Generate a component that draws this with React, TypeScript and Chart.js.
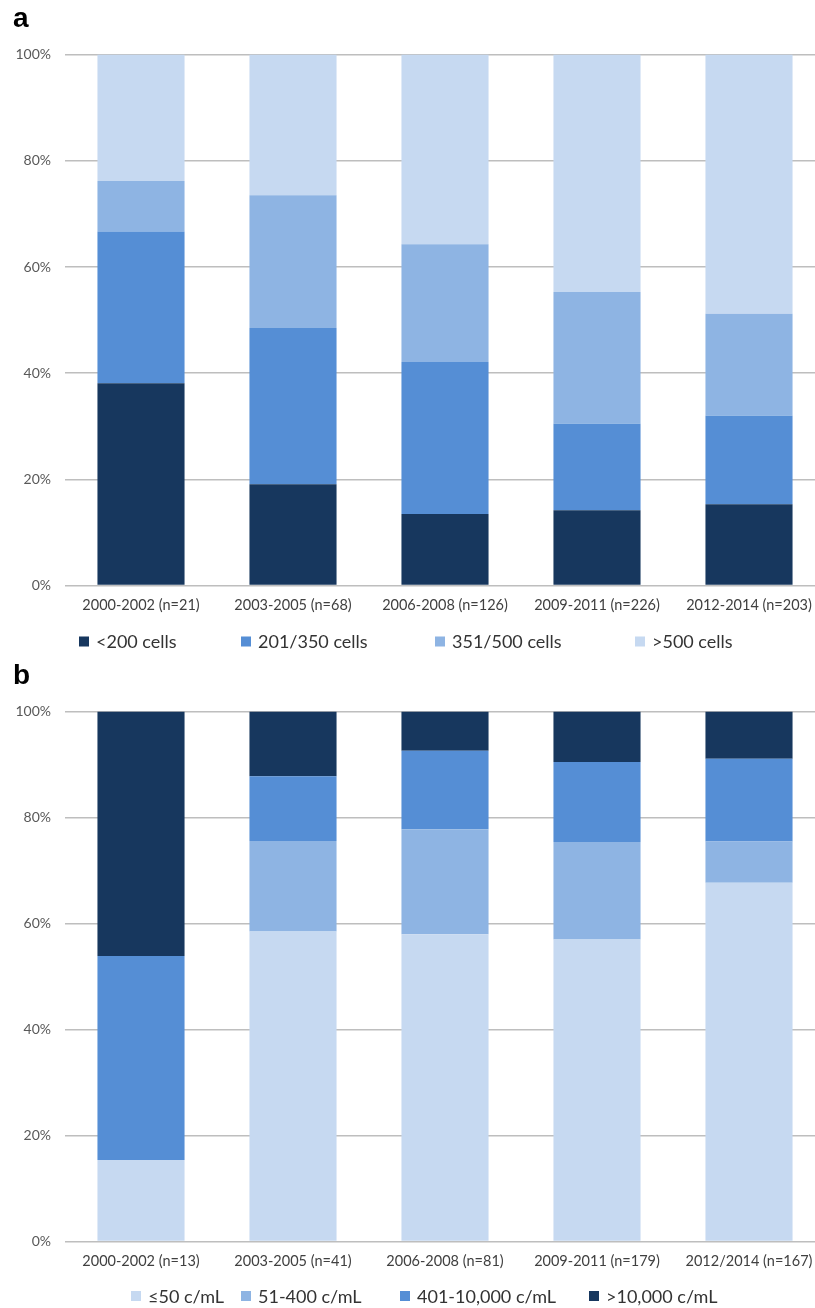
import React, { useEffect, useRef } from 'react';
import { Chart, registerables } from 'chart.js';

Chart.register(...registerables);

// ---- Panel a: CD4 count categories ----
const categoriesA = ['2000-2002 (n=21)', '2003-2005 (n=68)', '2006-2008 (n=126)', '2009-2011 (n=226)', '2012-2014 (n=203)'];
const cd4Below200 = [38.1, 19.1, 13.5, 14.2, 15.3];
const cd4From201To350 = [28.6, 29.4, 28.6, 16.3, 16.7];
const cd4From351To500 = [9.5, 25.0, 22.2, 24.8, 19.2];
const cd4Above500 = [23.8, 26.5, 35.7, 44.7, 48.8];
const labelsA = ['<200 cells', '201/350 cells', '351/500 cells', '>500 cells'];

// ---- Panel b: viral load categories ----
const categoriesB = ['2000-2002 (n=13)', '2003-2005 (n=41)', '2006-2008 (n=81)', '2009-2011 (n=179)', '2012/2014 (n=167)'];
const vlUpTo50 = [15.4, 58.5, 58.0, 57.0, 67.7];
const vlFrom51To400 = [0, 17.1, 19.8, 18.4, 7.8];
const vlFrom401To10000 = [38.5, 12.2, 14.8, 15.1, 15.6];
const vlAbove10000 = [46.1, 12.2, 7.4, 9.5, 8.9];
const labelsB = ['≤50 c/mL', '51-400 c/mL', '401-10,000 c/mL', '>10,000 c/mL'];

const yTickValues = [0, 20, 40, 60, 80, 100];

const NAVY = '#17375E';
const MID = '#558ED5';
const LIGHT = '#8EB4E3';
const PALE = '#C6D9F1';

const FONT = 'Lato, "Noto Sans", sans-serif';

const bottomLegend = {
  id: 'bottomLegend',
  afterDraw(chart: any, _args: any, opts: any) {
    const ctx = chart.ctx;
    ctx.save();
    ctx.font = `${opts.fontSize}px ${FONT}`;
    ctx.textBaseline = 'middle';
    ctx.textAlign = 'left';
    chart.data.datasets.forEach((ds: any, i: number) => {
      const x = opts.itemX[i];
      ctx.fillStyle = ds.backgroundColor;
      ctx.fillRect(x, opts.y - opts.box / 2, opts.box, opts.box);
      ctx.fillStyle = opts.color;
      ctx.fillText(ds.label, x + opts.box + opts.gap, opts.y + 1);
    });
    ctx.restore();
  },
};

function buildConfig(
  panel: string,
  categories: string[],
  series: { label: string; data: number[]; color: string }[],
  legendX: number[],
  legendY: number,
  padBottom: number
): any {
  return {
    type: 'bar',
    data: {
      labels: categories,
      datasets: series.map((s) => ({
        label: s.label,
        data: s.data,
        backgroundColor: s.color,
        borderWidth: 0,
        categoryPercentage: 1,
        barPercentage: 0.573,
      })),
    },
    plugins: [bottomLegend],
    options: {
      responsive: false,
      animation: false,
      layout: { padding: { left: 13, right: 5, top: 0, bottom: padBottom } },
      plugins: {
        legend: { display: false },
        tooltip: { enabled: false },
        title: {
          display: true,
          text: panel,
          align: 'start',
          color: '#000',
          font: { family: '"Liberation Sans", Arial, sans-serif', size: 28, weight: 'bold' },
          padding: { top: 2, bottom: 19 },
        },
        bottomLegend: { itemX: legendX, y: legendY, box: 10, gap: 7, fontSize: 18, color: '#333333' },
      },
      scales: {
        x: {
          stacked: true,
          grid: { display: false, drawTicks: false },
          border: { display: false },
          ticks: { color: '#404040', font: { family: FONT, size: 14.5 }, padding: 11, maxRotation: 0, autoSkip: false },
        },
        y: {
          stacked: true,
          min: 0,
          max: 100,
          afterBuildTicks: (scale: any) => {
            scale.ticks = yTickValues.map((v) => ({ value: v }));
          },
          afterFit: (scale: any) => {
            scale.width = 52;
          },
          grid: { color: '#BEBEBE', lineWidth: 1.5, drawTicks: false },
          border: { display: false },
          ticks: {
            color: '#595959',
            font: { family: FONT, size: 14 },
            padding: 14,
            callback: (v: any) => `${v}%`,
          },
        },
      },
    },
  };
}

function Panel(props: { config: any; top: number; height: number }) {
  const ref = useRef<HTMLCanvasElement | null>(null);
  useEffect(() => {
    if (!ref.current) return;
    const chart = new Chart(ref.current, props.config);
    return () => chart.destroy();
  }, []);
  return (
    <canvas
      ref={ref}
      width={830}
      height={props.height}
      style={{ position: 'absolute', left: 0, top: props.top, width: 830, height: props.height }}
    />
  );
}

export default function App() {
  const configA = buildConfig(
    'a',
    categoriesA,
    [
      { label: labelsA[0], data: cd4Below200, color: NAVY },
      { label: labelsA[1], data: cd4From201To350, color: MID },
      { label: labelsA[2], data: cd4From351To500, color: LIGHT },
      { label: labelsA[3], data: cd4Above500, color: PALE },
    ],
    [79, 241, 435, 635],
    641.5,
    31
  );
  const configB = buildConfig(
    'b',
    categoriesB,
    [
      { label: labelsB[0], data: vlUpTo50, color: PALE },
      { label: labelsB[1], data: vlFrom51To400, color: LIGHT },
      { label: labelsB[2], data: vlFrom401To10000, color: MID },
      { label: labelsB[3], data: vlAbove10000, color: NAVY },
    ],
    [131, 241, 400, 589],
    639,
    27
  );
  return (
    <div style={{ position: 'absolute', left: 0, top: 0, width: 815, height: 1308, overflow: 'hidden', background: '#fff' }}>
      <Panel config={configA} top={0} height={656} />
      <Panel config={configB} top={657} height={651} />
    </div>
  );
}
